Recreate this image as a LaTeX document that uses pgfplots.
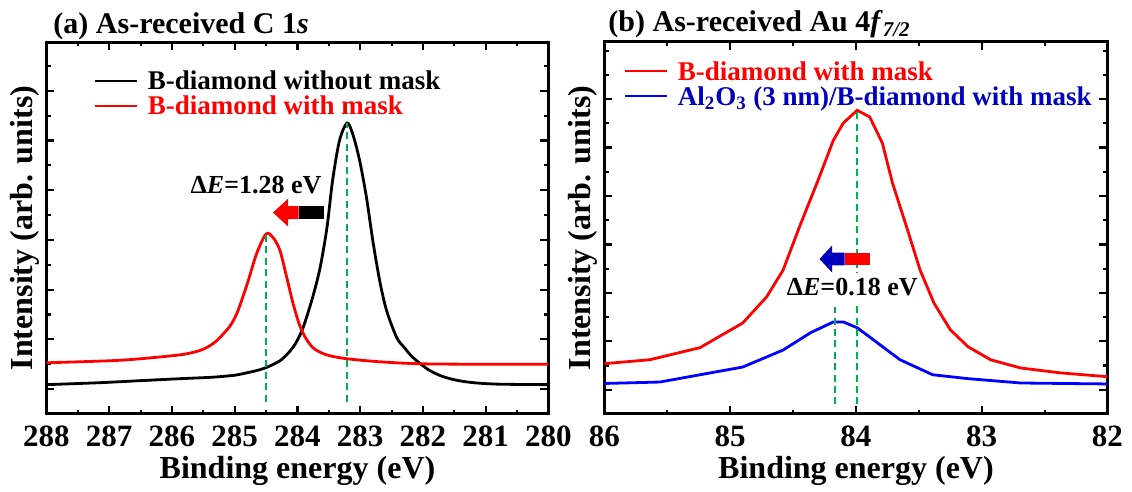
\documentclass[border=0pt]{standalone}
\usepackage{fontspec}
\setmainfont{Liberation Serif}
\usepackage{pgfplots}
\pgfplotsset{compat=1.18}
\definecolor{dgreen}{RGB}{0,176,80}
\definecolor{dblue}{RGB}{0,0,190}
\pgfplotsset{
  panel/.style={
    scale only axis, height=186pt,
    anchor=south west,
    no markers,
    x dir=reverse,
    axis line style={line width=1.5pt},
    tick style={line width=1.1pt, black},
    major tick length=4pt, minor tick length=2.2pt,
    tick align=inside,
    ytick={0,...,6}, yticklabels={},
    ymin=-0.5,
    xticklabel style={font=\fontsize{15.5}{18}\selectfont\bfseries, inner sep=0pt, anchor=north, yshift=-5.5pt},
    /pgf/number format/assume math mode=true,
    xlabel={Binding energy (eV)},
    ylabel={Intensity (arb. units)},
    every axis x label/.style={at={(axis description cs:0.5,0)}, anchor=north, yshift=-21pt, inner sep=0pt, font=\fontsize{16}{19}\selectfont\bfseries},
    every axis y label/.style={at={(axis description cs:-0.013,0.5)}, rotate=90, anchor=south, inner sep=0pt, font=\fontsize{16}{19}\selectfont\bfseries},
    every axis title/.style={at={(axis description cs:0,1)}, anchor=base west, inner sep=0pt, font=\fontsize{15}{18}\selectfont\bfseries},
    legend cell align=left,
    legend image code/.code={\draw[#1] (0pt,0pt) -- (21pt,0pt); \path (25.5pt,0pt);},
    legend style={draw=none, fill=none, inner sep=0pt, outer sep=0pt, anchor=north west,
      font=\fontsize{13.5}{16}\selectfont\bfseries,
      nodes={inner sep=0pt, text height=10.75pt, text depth=1.75pt}},
  },
  curve/.style={line width=1.4pt},
  guide/.style={dgreen, line width=1.1pt, dash pattern=on 3.5pt off 2.2pt, forget plot},
}
\begin{document}
\begin{tikzpicture}
\useasboundingbox (0,0) rectangle (566pt,246pt);
% ---------------- panel (a)
\begin{axis}[panel, at={(23.25pt,39pt)}, width=251pt,
  xmin=280, xmax=288, xtick={280,...,288}, minor xtick={280.5,281.5,...,287.5},
  ymax=6.98, minor ytick={0.5,1.5,...,6.5},
  title={(a) As-received C 1\textit{s}}, title style={xshift=3.3pt, yshift=4.5pt},
  legend style={at={(axis description cs:0.0946,0.929)}}]
\addplot[curve, black, smooth, tension=0.5] coordinates {
(288.00,0.09) (287.14,0.13) (286.51,0.17) (285.87,0.21) (285.35,0.24)
(285.00,0.28) (284.80,0.33) (284.60,0.39) (284.45,0.46) (284.28,0.57)
(284.15,0.72) (284.03,0.92) (283.91,1.24)
(283.76,1.84) (283.64,2.44) (283.53,3.25) (283.44,4.20) (283.33,5.00)
(283.21,5.35) (283.12,5.13) (283.01,4.60) (282.90,3.85) (282.80,2.99)
(282.69,2.18) (282.58,1.58) (282.42,1.04) (282.30,0.84) (282.18,0.66)
(282.05,0.52) (281.90,0.38) (281.70,0.26) (281.47,0.18) (281.20,0.13)
(280.80,0.10) (280.00,0.09)};
\addlegendentry{B-diamond without mask}
\addplot[curve, red, smooth, tension=0.5] coordinates {
(288.00,0.53) (287.00,0.57) (286.51,0.61) (285.87,0.69) (285.60,0.76)
(285.44,0.84) (285.30,0.96) (285.19,1.10) (285.07,1.28) (284.96,1.54)
(284.80,2.12) (284.65,2.73) (284.50,3.12) (284.39,3.05)
(284.28,2.79) (284.17,2.24) (284.07,1.72) (283.97,1.30) (283.88,1.05)
(283.76,0.84) (283.62,0.73) (283.48,0.67) (283.21,0.61) (282.69,0.55)
(282.05,0.51) (281.00,0.50) (280.00,0.50)};
\addlegendentry{\textcolor{red}{B-diamond with mask}}
\addplot[guide] coordinates {(284.50,-0.25) (284.50,3.12)};
\addplot[guide] coordinates {(283.21,-0.25) (283.21,5.35)};
\addplot[fill=red, draw=none, forget plot] coordinates {
(284.39,3.55) (284.15,3.83) (284.15,3.68) (283.98,3.68) (283.98,3.42) (284.15,3.42) (284.15,3.27)};
\addplot[fill=black, draw=none, forget plot] coordinates {
(283.98,3.68) (283.58,3.68) (283.58,3.42) (283.98,3.42)};
\node[anchor=base, inner sep=0pt, font=\fontsize{13}{15}\selectfont\bfseries] at (axis cs:284.66,3.94) {Δ\textit{E}=1.28 eV};
\end{axis}
% ---------------- panel (b)
\begin{axis}[panel, at={(302.25pt,39pt)}, width=251.5pt,
  xmin=82, xmax=86, xtick={82,...,86}, minor xtick={82.5,83.5,84.5,85.5},
  ymax=7.18, minor ytick={0.5,1.5,...,6.5,7},
  title={(b) As-received Au 4\textit{f}\textsubscript{\textit{7/2}}}, title style={xshift=1.8pt, yshift=5pt},
  legend style={at={(axis description cs:0.0388,0.9556)}}]
\addplot[curve, red] coordinates {
(86.00,0.54) (85.64,0.62) (85.24,0.87) (84.90,1.38) (84.71,1.92)
(84.58,2.47) (84.45,3.36) (84.31,4.27) (84.18,5.15) (84.10,5.51)
(83.99,5.77) (83.89,5.63) (83.79,5.09) (83.71,4.27) (83.59,3.30)
(83.49,2.47) (83.38,1.79) (83.25,1.24) (83.11,0.89) (82.93,0.62)
(82.69,0.45) (82.38,0.35) (82.00,0.27)};
\addlegendentry{\textcolor{red}{B-diamond with mask}}
\addplot[curve, blue] coordinates {
(86.00,0.13) (85.56,0.16) (85.24,0.31) (84.90,0.47) (84.58,0.82)
(84.36,1.18) (84.18,1.40) (84.10,1.40) (83.99,1.28) (83.83,0.97)
(83.65,0.62) (83.39,0.31) (83.11,0.23) (82.69,0.14) (82.00,0.12)};
\addlegendentry{\textcolor{dblue}{Al\textsubscript{2}O\textsubscript{3} (3 nm)/B-diamond with mask}}
\addplot[guide] coordinates {(84.17,-0.3) (84.17,1.7)};
\addplot[guide] coordinates {(83.99,-0.3) (83.99,5.77)};
\addplot[fill=dblue, draw=none, forget plot] coordinates {
(84.29,2.70) (84.19,2.98) (84.19,2.834) (84.09,2.834) (84.09,2.566) (84.19,2.566) (84.19,2.42)};
\addplot[fill=red, draw=none, forget plot] coordinates {
(84.09,2.834) (83.89,2.834) (83.89,2.566) (84.09,2.566)};
\node[anchor=base, fill=white, inner xsep=0.5pt, inner ysep=3pt, font=\fontsize{13}{15}\selectfont\bfseries] at (axis cs:84.03,1.94) {Δ\textit{E}=0.18 eV};
\end{axis}
\end{tikzpicture}
\end{document}
